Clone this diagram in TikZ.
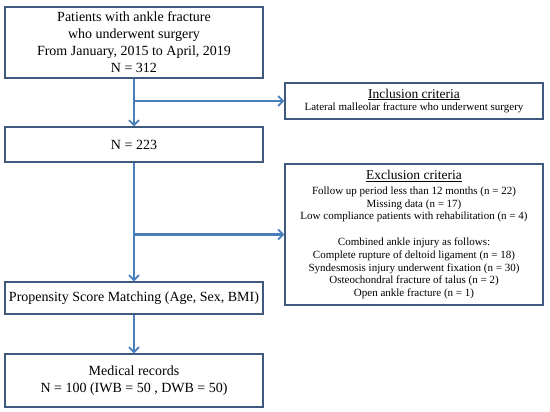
\documentclass[tikz,border=0pt]{standalone}
\usepackage{fontspec}
\setmainfont{Liberation Serif}
\usetikzlibrary{arrows.meta}
\definecolor{boxc}{HTML}{3F5A7E}
\definecolor{arrc}{HTML}{4A7EBB}
\tikzset{
  box/.style={draw=boxc, line width=1.1pt, rectangle, minimum width=258pt, align=center, inner sep=0pt, fill=white},
  big/.style={font=\fontsize{14}{17}\selectfont},
  small/.style={font=\fontsize{11}{12.8}\selectfont},
  arr/.style={draw=arrc, line width=2.1pt, -{Straight Barb[length=5pt,width=10pt,line width=1.8pt]}},
}
\begin{document}
\begin{tikzpicture}[x=1pt,y=-1pt]
\useasboundingbox[fill=white] (0,0) rectangle (550,412);
\node[box,big,minimum height=71pt] (b1) at (134,42.5) {Patients with ankle fracture\\who underwent surgery\\From January, 2015 to April, 2019\\N = 312};
\node[box,big,minimum height=35pt] (b2) at (134,144.5) {N = 223};
\node[box,big,minimum height=32pt] (b3) at (134,298) {Propensity Score Matching (Age, Sex, BMI)};
\node[box,big,minimum height=53pt] (b4) at (134,380.5) {Medical records\\N = 100 (IWB = 50 , DWB = 50)};
\node[box,small,minimum height=36pt] (inc) at (414,101) {{\fontsize{13.5}{15}\selectfont\underline{Inclusion criteria}}\\Lateral malleolar fracture who underwent surgery};
\node[box,small,minimum height=141pt] (exc) at (414,234.5) {{\fontsize{13.5}{15}\selectfont\underline{Exclusion criteria}}\\[2pt]Follow up period less than 12 months (n = 22)\\Missing data (n = 17)\\Low compliance patients with rehabilitation (n = 4)\\[12.8pt]Combined ankle injury as follows:\\Complete rupture of deltoid ligament (n = 18)\\Syndesmosis injury underwent fixation (n = 30)\\Osteochondral fracture of talus (n = 2)\\Open ankle fracture (n = 1)};
\coordinate (j1) at (b1.south |- inc.west);
\coordinate (j2) at (b2.south |- exc.west);
\draw[arr] (b1.south) -- (b2.north);
\draw[arr] (j1) -- (inc.west);
\draw[arr] (b2.south) -- (b3.north);
\draw[arr] (j2) -- (exc.west);
\draw[arr] (b3.south) -- (b4.north);
\end{tikzpicture}
\end{document}
